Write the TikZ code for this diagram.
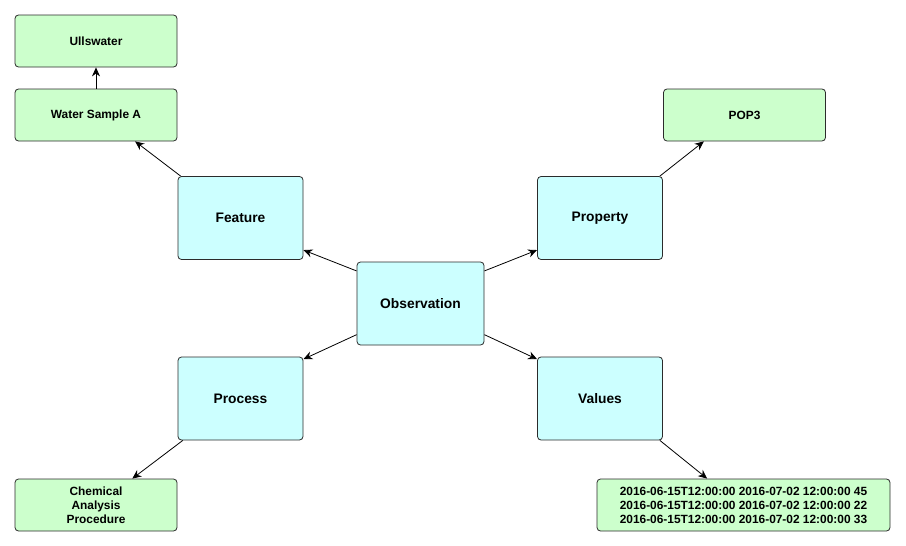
\documentclass[tikz,border=0pt]{standalone}
\usepackage{fontspec}
\setmainfont{Liberation Sans}
\usetikzlibrary{arrows.meta}
\definecolor{mintgreen}{HTML}{CCFFCC}
\definecolor{paleaqua}{HTML}{CCFFFF}
\definecolor{boxedge}{HTML}{2B2B2B}

\begin{document}
\begin{tikzpicture}[x=1pt, y=-1pt,
    concept/.style={draw=boxedge, fill=paleaqua, line width=0.8pt, rounded corners=3.5pt,
      minimum width=125pt, minimum height=83pt, font=\fontsize{13.8}{16}\selectfont\bfseries},
    entity/.style={draw=boxedge, fill=mintgreen, line width=0.8pt, rounded corners=3.5pt,
      minimum width=162pt, minimum height=52pt, align=center, inner sep=2pt,
      font=\fontsize{11.9}{14}\selectfont\bfseries},
    link/.style={-{Stealth[length=9pt, width=8pt]}, line width=0.8pt}]
  \useasboundingbox (0,0) rectangle (906,546);
  % centre
  \node[concept, minimum width=127pt] (obs) at (420.5,303.5) {Observation};
  % four aspects
  \node[concept] (feature)  at (240.5,218)   {Feature};
  \node[concept] (property) at (600,218)     {Property};
  \node[concept] (process)  at (240.5,398.5) {Process};
  \node[concept] (values)   at (600,398.5)   {Values};
  % outer entities
  \node[entity] (lake)   at (96,41)    {Ullswater};
  \node[entity] (sample) at (96,115)   {Water Sample A};
  \node[entity] (pop)    at (744.5,115) {POP3};
  \node[entity] (method) at (96,505)   {Chemical\\Analysis\\Procedure};
  \node[entity, minimum width=293pt] (results) at (743.5,505)
    {2016-06-15T12:00:00 2016-07-02 12:00:00 45\\
     2016-06-15T12:00:00 2016-07-02 12:00:00 22\\
     2016-06-15T12:00:00 2016-07-02 12:00:00 33};
  % links from observation
  \draw[link] (obs.153) -- (feature.-27);
  \draw[link] (obs.27) -- (property.207);
  \draw[link] (obs.206) -- (process.32);
  \draw[link] (obs.-26) -- (values.148);
  % links to entities
  \draw[link] (feature.145) -- (sample.-34);
  \draw[link] (sample.north) -- (lake.south);
  \draw[link] (property.35) -- (pop.-147);
  \draw[link] (process.216) -- (method.36);
  \draw[link] (values.-35) -- (results.144);
\end{tikzpicture}
\end{document}
